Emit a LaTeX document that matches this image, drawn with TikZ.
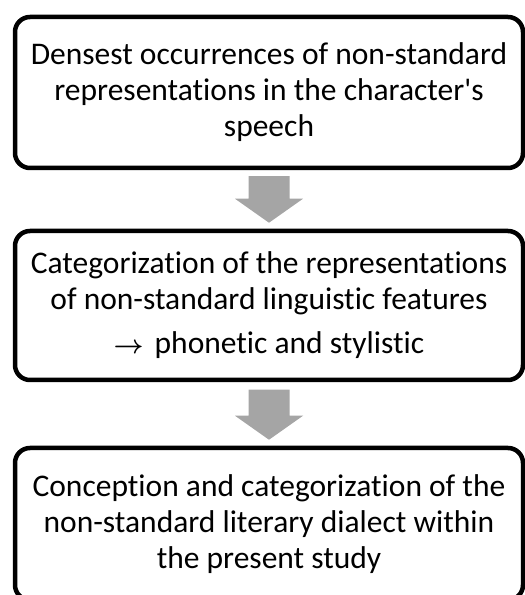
\documentclass[tikz,border=0pt]{standalone}
\usepackage{fontspec}
\setmainfont[Ligatures={NoCommon}]{Carlito}
\usetikzlibrary{calc}
\usetikzlibrary{positioning}
\definecolor{arrowgray}{HTML}{A5A5A5}
\tikzstyle{block} = [rectangle, rounded corners=15pt, minimum width=508pt, draw=black, line width=4.5pt, align=center, font=\fontsize{31.5}{36}\selectfont]
\newcommand{\shaft}{20.5pt}
\newcommand{\headhalf}{34pt}
\newcommand{\headlen}{24pt}
\newcommand{\textarrow}{\resizebox{30pt}{!}{\boldmath$\rightarrow$}\hspace{11pt}}
\tikzstyle{fatarrow} = [fill=arrowgray, to path={let \p1=(\tikztostart), \p2=(\tikztotarget) in (\x1-\shaft,\y1) -- (\x1+\shaft,\y1) -- (\x1+\shaft,\y2+\headlen) -- (\x1+\headhalf,\y2+\headlen) -- (\x1,\y2) -- (\x1-\headhalf,\y2+\headlen) -- (\x1-\shaft,\y2+\headlen) -- cycle}]

\begin{document}
\begin{tikzpicture}[x=1pt, y=1pt]

  \useasboundingbox (0,0) rectangle (525,595);

  % First step
  \node [block, minimum height=151pt] (densest) at (269,502.5) {Densest occurrences of non-standard\\representations in the character\textquotesingle s\\speech};

  % Second step
  \node [block, minimum height=149pt, below=58.5pt of densest] (categ) {Categorization of the representations\\of non-standard linguistic features\\[8pt]\textarrow phonetic and stylistic};

  % Third step
  \node [block, minimum height=152pt, below=63.5pt of categ] (concept) {Conception and categorization of the\\non-standard literary dialect within\\the present study};

  % Block arrows
  \fill [fatarrow] ([yshift=-6pt]densest.south) to ([yshift=6pt]categ.north);
  \fill [fatarrow] ([yshift=-7.5pt]categ.south) to ([yshift=6pt]concept.north);

\end{tikzpicture}
\end{document}
